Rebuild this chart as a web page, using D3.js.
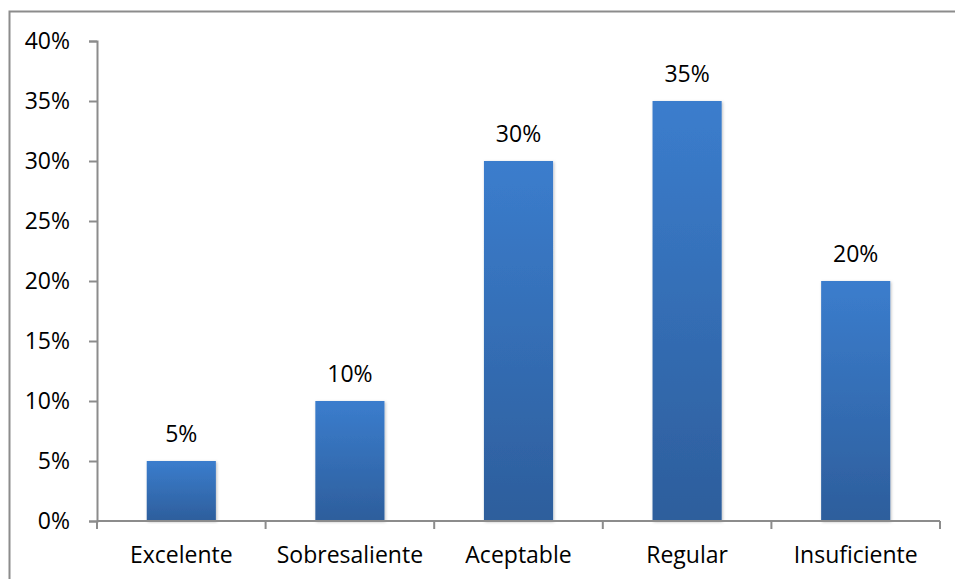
<!DOCTYPE html>
<html>
<head>
<meta charset="utf-8">
<script src="https://cdn.jsdelivr.net/npm/d3@7"></script>
<style>
  body { margin: 0; background: #fff; }
  svg { display: block; font-family: "Open Sans", Lato, sans-serif; }
</style>
</head>
<body>
<svg id="chart" width="955" height="579"></svg>
<script>
const categories = ['Excelente', 'Sobresaliente', 'Aceptable', 'Regular', 'Insuficiente'];
const values = [0.05, 0.10, 0.30, 0.35, 0.20];
const yTicks = [0, 0.05, 0.10, 0.15, 0.20, 0.25, 0.30, 0.35, 0.40];

const margin = { top: 41, right: 15, bottom: 58, left: 97 };
const width = 955 - margin.left - margin.right;
const height = 579 - margin.top - margin.bottom;
const fontSize = '23px';

const svg = d3.select('#chart');

// outer frame
svg.append('rect')
  .attr('x', 9.5).attr('y', 11.5)
  .attr('width', 960).attr('height', 600)
  .attr('fill', 'none')
  .attr('stroke', '#8c8c8c')
  .attr('stroke-width', 2);

const defs = svg.append('defs');
const grad = defs.append('linearGradient')
  .attr('id', 'barGrad')
  .attr('x1', 0).attr('y1', 0).attr('x2', 0).attr('y2', 1);
grad.append('stop').attr('offset', '0%').attr('stop-color', '#3b7dcd');
grad.append('stop').attr('offset', '100%').attr('stop-color', '#2d5e9c');

const shadow = defs.append('filter').attr('id', 'shadow')
  .attr('x', '-20%').attr('y', '-5%').attr('width', '140%').attr('height', '110%');
shadow.append('feDropShadow')
  .attr('dx', 1).attr('dy', 1).attr('stdDeviation', 1.5)
  .attr('flood-color', '#000').attr('flood-opacity', 0.25);

const g = svg.append('g')
  .attr('transform', `translate(${margin.left}, ${margin.top})`);

const x = d3.scaleBand()
  .domain(categories)
  .range([0, width])
  .paddingInner(0.59)
  .paddingOuter(0.295);

const y = d3.scaleLinear()
  .domain([0, 0.4])
  .range([height, 0]);

const yAxis = d3.axisLeft(y)
  .tickValues(yTicks)
  .tickFormat(d3.format('.0%'))
  .tickSizeOuter(0)
  .tickSize(8)
  .tickPadding(19);

const yG = g.append('g').call(yAxis);
yG.select('.domain').attr('stroke', '#8c8c8c').attr('stroke-width', 2);
yG.selectAll('.tick line').attr('stroke', '#8c8c8c').attr('stroke-width', 2);
yG.selectAll('.tick text')
  .attr('font-size', fontSize)
  .attr('fill', '#000')
  .attr('font-family', '"Open Sans", Lato, sans-serif');

// bars
g.selectAll('.bar')
  .data(values)
  .enter().append('rect')
  .attr('class', 'bar')
  .attr('x', (d, i) => x(categories[i]))
  .attr('y', d => y(d))
  .attr('width', x.bandwidth())
  .attr('height', d => height - y(d))
  .attr('fill', 'url(#barGrad)')
  .attr('filter', 'url(#shadow)');

// x axis with ticks at category boundaries
const step = width / categories.length;
const xG = g.append('g').attr('transform', `translate(0, ${height})`);
xG.append('line')
  .attr('x1', 0).attr('x2', width)
  .attr('stroke', '#8c8c8c').attr('stroke-width', 2);
xG.selectAll('.xtick')
  .data(d3.range(categories.length + 1))
  .enter().append('line')
  .attr('x1', i => i * step).attr('x2', i => i * step)
  .attr('y1', 0).attr('y2', 8)
  .attr('stroke', '#8c8c8c').attr('stroke-width', 2);
xG.selectAll('.xlabel')
  .data(categories)
  .enter().append('text')
  .attr('x', d => x(d) + x.bandwidth() / 2)
  .attr('y', 42)
  .attr('text-anchor', 'middle')
  .attr('font-size', fontSize)
  .attr('fill', '#000')
  .text(d => d);

// data labels
g.selectAll('.label')
  .data(values)
  .enter().append('text')
  .attr('x', (d, i) => x(categories[i]) + x.bandwidth() / 2)
  .attr('y', d => y(d) - 19)
  .attr('text-anchor', 'middle')
  .attr('font-size', fontSize)
  .attr('fill', '#000')
  .text(d => d3.format('.0%')(d));
</script>
</body>
</html>
